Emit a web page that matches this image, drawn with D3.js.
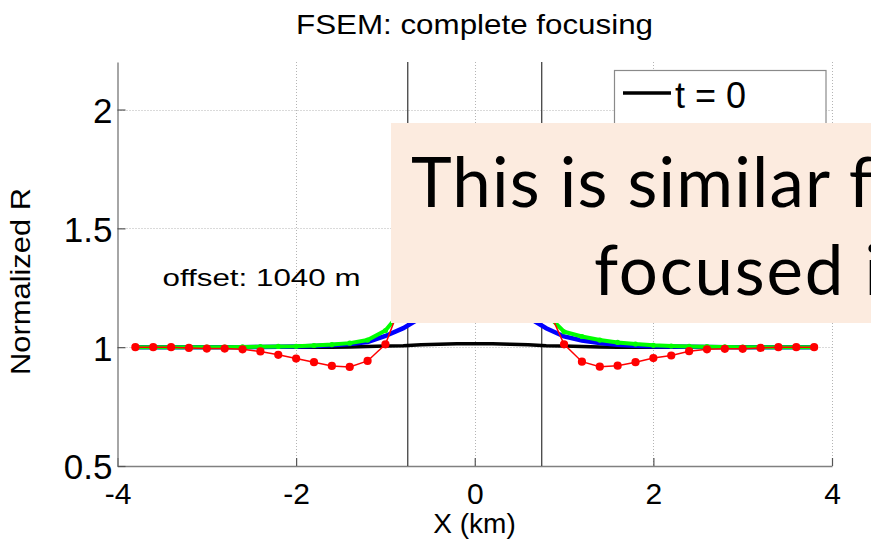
<!DOCTYPE html>
<html>
<head>
<meta charset="utf-8">
<script src="https://cdn.jsdelivr.net/npm/d3@7"></script>
<style>
  html, body { margin: 0; padding: 0; background: #fff; }
  svg { display: block; }
  text { font-family: "Liberation Sans", Arial, Helvetica, sans-serif; fill: #000; }
</style>
</head>
<body>
<svg id="chart" width="871" height="541"></svg>
<script>
// Sample positions along the profile (km)
const xKm = [-3.8, -3.6, -3.4, -3.2, -3.0, -2.8, -2.6, -2.4, -2.2, -2.0,
             -1.8, -1.6, -1.4, -1.2, -1.0, -0.8, -0.6, -0.4, -0.2, 0.0,
              0.2,  0.4,  0.6,  0.8,  1.0,  1.2,  1.4,  1.6,  1.8,  2.0,
              2.2,  2.4,  2.6,  2.8,  3.0,  3.2,  3.4,  3.6,  3.8];

// Normalized R at each time step
const rT0 = [1.000, 1.000, 1.000, 1.000, 1.000, 1.000, 1.000, 1.000, 1.000, 1.000,
             1.000, 1.000, 1.001, 1.003, 1.005, 1.006, 1.010, 1.012, 1.014, 1.014,
             1.014, 1.012, 1.010, 1.006, 1.005, 1.003, 1.001, 1.000, 1.000, 1.000,
             1.000, 1.000, 1.000, 1.000, 1.000, 1.000, 1.000, 1.000, 1.000];
const rBlue = [1.000, 1.000, 1.000, 1.000, 1.000, 1.000, 1.000, 1.001, 1.002, 1.003,
               1.005, 1.008, 1.013, 1.022, 1.047, 1.080, 1.125, 1.300, 1.450, 1.500,
               1.450, 1.300, 1.125, 1.080, 1.045, 1.028, 1.018, 1.010, 1.006, 1.004,
               1.003, 1.002, 1.001, 1.000, 1.000, 1.000, 1.000, 1.000, 1.000];
const rGreen = [1.000, 1.000, 1.000, 1.000, 1.000, 1.000, 1.001, 1.002, 1.003, 1.004,
                1.007, 1.011, 1.017, 1.030, 1.070, 1.160, 1.350, 1.500, 1.580, 1.600,
                1.580, 1.500, 1.350, 1.140, 1.065, 1.045, 1.030, 1.020, 1.013, 1.008,
                1.005, 1.003, 1.002, 1.001, 1.000, 1.000, 1.000, 1.000, 1.000];
const rRed = [1.000, 1.000, 1.000, 0.997, 0.994, 0.994, 0.991, 0.982, 0.968, 0.952,
              0.937, 0.921, 0.917, 0.942, 1.012, 1.210, 1.450, 1.620, 1.700, 1.720,
              1.700, 1.620, 1.450, 1.180, 1.012, 0.939, 0.918, 0.922, 0.937, 0.954,
              0.965, 0.983, 0.991, 0.993, 0.993, 0.997, 1.000, 1.000, 1.000];

// Edges of the focusing zone (km)
const zoneEdges = [-0.75, 0.75];

const xTicks = [-4, -2, 0, 2, 4];
const yTicks = [0.5, 1, 1.5, 2];
const xGrid = [-2, 0, 2, 4];
const yGrid = [1, 1.5, 2];

const legendLabels = ["t = 0"];

const svg = d3.select("#chart");
svg.append("rect").attr("width", 871).attr("height", 541).attr("fill", "#fff");

const x = d3.scaleLinear().domain([-4, 4]).range([117.5, 832]);
const y = d3.scaleLinear().domain([0.5, 2.2]).range([466, 62]);

// Dotted grid
const grid = svg.append("g").attr("stroke", "#b4b4b4").attr("stroke-width", 1)
  .attr("stroke-dasharray", "1,2");
grid.selectAll("line.gx").data(xGrid).join("line").attr("class", "gx")
  .attr("x1", d => Math.round(x(d)) + 0.5).attr("x2", d => Math.round(x(d)) + 0.5)
  .attr("y1", y(2.2)).attr("y2", y(0.5));
grid.selectAll("line.gy").data(yGrid).join("line").attr("class", "gy")
  .attr("y1", d => Math.round(y(d)) + 0.5).attr("y2", d => Math.round(y(d)) + 0.5)
  .attr("x1", x(-4)).attr("x2", x(4));

// Axes
const xAxis = svg.append("g").attr("transform", `translate(0,${y(0.5)})`)
  .call(d3.axisBottom(x).tickValues(xTicks).tickSize(-8).tickSizeOuter(0)
    .tickPadding(17).tickFormat(d => String(d)));
const yAxis = svg.append("g").attr("transform", `translate(${x(-4)},0)`)
  .call(d3.axisLeft(y).tickValues(yTicks).tickSize(-8).tickSizeOuter(0)
    .tickPadding(5).tickFormat(d => String(d)));
[xAxis, yAxis].forEach(a => {
  a.select(".domain").attr("stroke", "#808080").attr("stroke-width", 1.4);
  a.selectAll(".tick line").attr("stroke", "#555").attr("stroke-width", 1.2);
  a.selectAll(".tick text").attr("fill", "#000")
    .style("font-family", "'Liberation Sans', Arial, sans-serif");
});
xAxis.selectAll(".tick text").attr("font-size", 30);
yAxis.selectAll(".tick text").attr("font-size", 35).attr("dy", "0.37em");

// Focusing zone edges
svg.append("g").selectAll("line").data(zoneEdges).join("line")
  .attr("x1", d => x(d)).attr("x2", d => x(d))
  .attr("y1", y(2.2)).attr("y2", y(0.5))
  .attr("stroke", "#333").attr("stroke-width", 1.2);

// Curves
const pts = vals => xKm.map((d, i) => [d, vals[i]]);
const line = d3.line().x(d => x(d[0])).y(d => y(d[1]));

svg.append("path").datum(pts(rT0)).attr("d", line)
  .attr("fill", "none").attr("stroke", "#000").attr("stroke-width", 3.5);
svg.append("path").datum(pts(rBlue)).attr("d", line)
  .attr("fill", "none").attr("stroke", "#0000ff").attr("stroke-width", 4.5);
svg.append("path").datum(pts(rGreen)).attr("d", line)
  .attr("fill", "none").attr("stroke", "#00ff00").attr("stroke-width", 4);
svg.append("g").selectAll("circle").data(pts(rGreen)).join("circle")
  .attr("cx", d => x(d[0])).attr("cy", d => y(d[1])).attr("r", 2.6).attr("fill", "#00ff00");
svg.append("path").datum(pts(rRed)).attr("d", line)
  .attr("fill", "none").attr("stroke", "#ff0000").attr("stroke-width", 1.5);
svg.append("g").selectAll("circle").data(pts(rRed)).join("circle")
  .attr("cx", d => x(d[0])).attr("cy", d => y(d[1])).attr("r", 4.1).attr("fill", "#ff0000");

// Annotation
svg.append("text").attr("x", 162.5).attr("y", 285.5).attr("font-size", 24)
  .attr("textLength", 198).attr("lengthAdjust", "spacingAndGlyphs")
  .text("offset: 1040 m");

// Legend
const legend = svg.append("g");
legend.append("rect").attr("x", 614.5).attr("y", 70.5).attr("width", 211.5).attr("height", 160)
  .attr("fill", "#fff").attr("stroke", "#8a8a8a").attr("stroke-width", 1.2);
legend.append("line").attr("x1", 623).attr("x2", 671).attr("y1", 93).attr("y2", 93)
  .attr("stroke", "#000").attr("stroke-width", 3.5);
legend.append("text").attr("x", 675).attr("y", 108).attr("font-size", 36).text(legendLabels[0]);

// Title and axis labels
svg.append("text").attr("x", 474.5).attr("y", 34).attr("text-anchor", "middle")
  .attr("font-size", 28).attr("textLength", 357).attr("lengthAdjust", "spacingAndGlyphs")
  .text("FSEM: complete focusing");
svg.append("text").attr("x", 474.5).attr("y", 533).attr("text-anchor", "middle")
  .attr("font-size", 28).text("X (km)");
svg.append("text").attr("transform", "translate(30,281.5) rotate(-90)")
  .attr("text-anchor", "middle").attr("font-size", 28)
  .attr("textLength", 187).attr("lengthAdjust", "spacingAndGlyphs")
  .text("Normalized R");

// Callout box
const callout = svg.append("g");
callout.append("rect").attr("x", 391).attr("y", 123).attr("width", 480).attr("height", 200)
  .attr("fill", "#fcebdf");
callout.append("text").attr("x", 411).attr("y", 206.5)
  .style("font-family", "Lato, 'Open Sans', sans-serif").attr("font-size", 69)
  .attr("letter-spacing", 1.2)
  .text("This is similar for");
callout.append("text").attr("x", 594).attr("y", 295)
  .style("font-family", "Lato, 'Open Sans', sans-serif").attr("font-size", 69)
  .attr("letter-spacing", 1.8)
  .text("focused in");
</script>
</body>
</html>
